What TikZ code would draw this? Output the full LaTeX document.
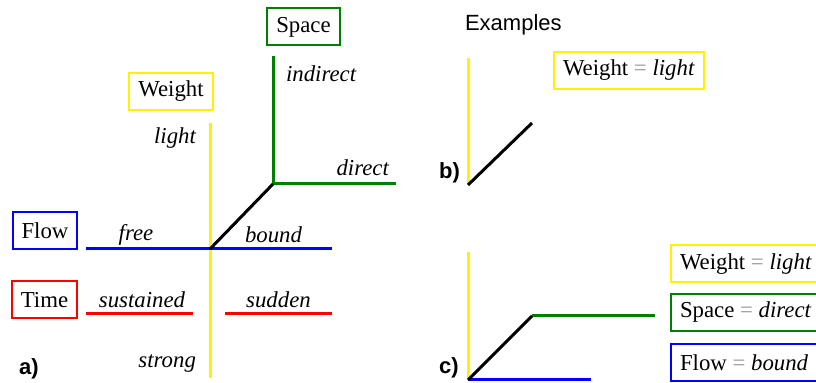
\documentclass[tikz,border=0pt]{standalone}
\usepackage{fontspec}
\setmainfont{Liberation Serif}
\setsansfont{Liberation Sans}
\definecolor{spacegreen}{RGB}{0,128,0}
\definecolor{eqgray}{RGB}{150,150,150}
\newcommand{\eqsign}{\textcolor{eqgray}{=}}

\begin{document}
\begin{tikzpicture}[x=0.5pt,y=-0.5pt,
    font=\fontsize{11.4}{13}\selectfont,
    axis/.style={line width=1.5pt},
    factor/.style={draw,line width=1pt,minimum height=18.5pt,inner xsep=4.5pt},
    effort/.style={font=\fontsize{11.4}{13}\selectfont\itshape},
    panel/.style={font=\fontsize{11}{13}\selectfont\sffamily\bfseries,anchor=west}]
  \useasboundingbox (0,0) rectangle (816,383);
  % a) the effort axes
  \coordinate (wtop) at (210,123);
  \coordinate (wbot) at (210,378);
  \coordinate (origin) at (210,249);
  \coordinate (corner) at (273,184);
  \coordinate (stop) at (273,56);
  \coordinate (send) at (396,184);
  \coordinate (fleft) at (86,249);
  \coordinate (fright) at (332,249);
  \coordinate (tleft) at (86,314);
  \coordinate (tmid) at (193,314);
  \coordinate (tmid2) at (225,314);
  \coordinate (tright) at (332,314);
  \draw[axis,yellow] (wtop) -- (wbot);
  \draw[axis,spacegreen] (stop) -- (corner) -- (send);
  \draw[axis,blue] (fleft) -- (fright);
  \draw[axis,red] (tleft) -- (tmid);
  \draw[axis,red] (tmid2) -- (tright);
  \draw[axis,black] (origin) -- (corner);
  \node[factor,spacegreen] (space) at (303.5,27) {\color{black}Space};
  \node[factor,yellow] (weight) at (171,91.5) {\color{black}Weight};
  \node[factor,blue] (flow) at (45,231) {\color{black}Flow};
  \node[factor,red] (time) at (44.5,300) {\color{black}Time};
  \node[effort,anchor=west] (indirect) at (279,74) {indirect};
  \node[effort,anchor=east] (light) at (203,138) {light};
  \node[effort,anchor=east] (direct) at (396,168) {direct};
  \node[effort] (free) at (136,235) {free};
  \node[effort] (bound) at (273.5,235) {bound};
  \node[effort] (sustained) at (142,300) {sustained};
  \node[effort] (sudden) at (278.5,300) {sudden};
  \node[effort,anchor=east] (strong) at (203,364) {strong};
  \node[panel] (la) at (12,369) {a)};
  % examples
  \node[font=\fontsize{11}{13}\selectfont\sffamily,anchor=west] (examples) at (458,25) {Examples};
  % b)
  \coordinate (btop) at (468,58);
  \coordinate (borigin) at (468,185);
  \coordinate (bend) at (532,123);
  \draw[axis,yellow] (btop) -- (borigin);
  \draw[axis,black] (borigin) -- (bend);
  \node[factor,yellow,anchor=west] (bweight) at (553,70.5) {\color{black}Weight \eqsign\ \textit{light}};
  \node[panel] (lb) at (432,173) {b)};
  % c)
  \coordinate (ctop) at (468,252);
  \coordinate (corigin) at (468,380);
  \coordinate (ccorner) at (532,316);
  \coordinate (cgreen) at (655,316);
  \coordinate (cblue) at (591,380);
  \draw[axis,yellow] (ctop) -- (corigin);
  \draw[axis,blue] (corigin) -- (cblue);
  \draw[axis,spacegreen] (ccorner) -- (cgreen);
  \draw[axis,black] (corigin) -- (ccorner);
  \node[factor,yellow,anchor=west] (cweight) at (670,264) {\color{black}Weight \eqsign\ \textit{light}};
  \node[factor,spacegreen,anchor=west] (cspace) at (670,312.5) {\color{black}Space \eqsign\ \textit{direct}};
  \node[factor,blue,anchor=west] (cflow) at (670,363) {\color{black}Flow \eqsign\ \textit{bound}};
  \node[panel] (lc) at (432,368) {c)};
\end{tikzpicture}
\end{document}
